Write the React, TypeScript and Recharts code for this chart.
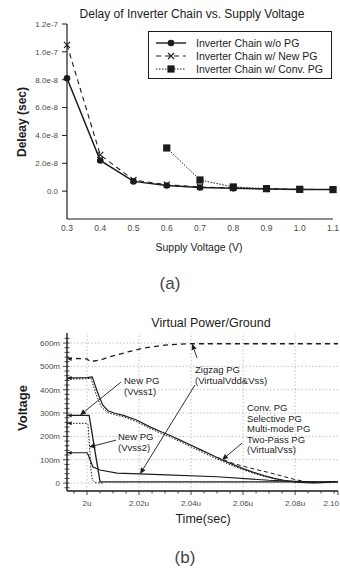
import React from 'react';
import { LineChart, Line, XAxis, YAxis, ReferenceLine, ReferenceDot, Legend } from 'recharts';

const FONT = '"Liberation Sans", Arial, sans-serif';
const INK = '#1c1c1c';
const TICK_INK = '#4a4a4a';

// (a) delay of inverter chain vs. supply voltage
const SUPPLY_V = [0.3, 0.4, 0.5, 0.6, 0.7, 0.8, 0.9, 1.0, 1.1];
const DELAY_NO_PG = [8.1e-8, 2.2e-8, 7e-9, 4e-9, 2.6e-9, 2e-9, 1.5e-9, 1.2e-9, 1.1e-9];
const DELAY_NEW_PG = [1.05e-7, 2.6e-8, 8e-9, 4.6e-9, 3e-9, 2.2e-9, 1.7e-9, 1.3e-9, 1.1e-9];
const DELAY_CONV_PG = [null, null, null, 3.1e-8, 8e-9, 3e-9, 1.8e-9, 1.3e-9, 1.1e-9];
const DELAY_TICKS = [0, 2e-8, 4e-8, 6e-8, 8e-8, 1e-7, 1.2e-7];
const DELAY_TICK_LABELS = ['0.0', '2.0e-8', '4.0e-8', '6.0e-8', '8.0e-8', '1.0e-7', '1.2e-7'];
const SUPPLY_TICK_LABELS = ['0.3', '0.4', '0.5', '0.6', '0.7', '0.8', '0.9', '1.0', '1.1'];
const LEGEND_NAMES = [
  'Inverter Chain w/o PG',
  'Inverter Chain w/ New PG',
  'Inverter Chain w/ Conv. PG',
];

// (b) virtual power / ground waveforms (time in us, voltage in V)
const ZIGZAG_T = [1.9923, 2.0, 2.0012, 2.005, 2.0088, 2.015, 2.0204, 2.025, 2.031, 2.035, 2.04, 2.05, 2.0965];
const ZIGZAG_V = [0.535, 0.532, 0.52, 0.527, 0.541, 0.56, 0.575, 0.584, 0.592, 0.595, 0.597, 0.597, 0.597];

const CONV_T = [1.9923, 2.0, 2.002, 2.004, 2.006, 2.008, 2.011, 2.014, 2.019, 2.024, 2.028, 2.032, 2.036, 2.04, 2.044, 2.048, 2.052, 2.056, 2.06, 2.064, 2.068, 2.072, 2.076, 2.08, 2.084, 2.088, 2.092, 2.0965];
const CONV_V = [0.45, 0.452, 0.455, 0.39, 0.335, 0.31, 0.298, 0.29, 0.27, 0.242, 0.222, 0.204, 0.183, 0.162, 0.141, 0.12, 0.099, 0.08, 0.062, 0.046, 0.032, 0.02, 0.011, 0.005, 0.002, 0.001, 0.003, 0.006];

const SELECTIVE_T = [1.9923, 2.0, 2.0015, 2.0035, 2.0055, 2.008, 2.011, 2.014, 2.019, 2.024, 2.028, 2.032, 2.036, 2.04, 2.044, 2.048, 2.052, 2.056, 2.06, 2.064, 2.068, 2.072, 2.076, 2.08, 2.084, 2.088];
const SELECTIVE_V = [0.445, 0.447, 0.45, 0.38, 0.325, 0.302, 0.292, 0.284, 0.263, 0.235, 0.215, 0.197, 0.176, 0.155, 0.134, 0.113, 0.093, 0.074, 0.057, 0.042, 0.029, 0.018, 0.01, 0.004, 0.002, 0.001];

const MULTI_T = [2.05, 2.056, 2.06, 2.065, 2.07, 2.075, 2.08, 2.085, 2.09];
const MULTI_V = [0.11, 0.085, 0.072, 0.058, 0.045, 0.03, 0.015, 0.004, 0.002];

const VVSS1_T = [1.9923, 2.0, 2.0008, 2.002, 2.003, 2.004, 2.005, 2.0965];
const VVSS1_V = [0.29, 0.29, 0.29, 0.21, 0.14, 0.075, 0.005, 0.005];

const VVSS1_DOT_T = [1.9923, 2.0, 2.0004, 2.001, 2.0015, 2.002, 2.003, 2.006];
const VVSS1_DOT_V = [0.256, 0.256, 0.25, 0.15, 0.06, 0.015, 0.002, 0.0];

const VVSS2_T = [1.9923, 2.0, 2.0005, 2.0012, 2.0023, 2.005, 2.0115, 2.02, 2.028, 2.05, 2.07, 2.08, 2.09, 2.0965];
const VVSS2_V = [0.13, 0.13, 0.12, 0.099, 0.069, 0.056, 0.043, 0.039, 0.036, 0.027, 0.012, 0.007, 0.004, 0.006];

// initial levels flagged with a small marker at the left edge
const START_LEVELS = [0.532, 0.45, 0.29, 0.256, 0.13];

const VOLT_MAJOR = [0, 0.1, 0.2, 0.3, 0.4, 0.5, 0.6];
const VOLT_LABELS = ['0', '100m', '200m', '300m', '400m', '500m', '600m'];
const TIME_MAJOR = [2.0, 2.02, 2.04, 2.06, 2.08, 2.0965];
const TIME_LABELS = ['2u', '2.02u', '2.04u', '2.06u', '2.08u', '2.10'];

// minor tick positions along the axes
const VOLT_TICKS = Array.from({ length: 33 }, (_, i) => Math.round((i - 1) * 20) / 1000);
const TIME_TICKS = [...Array.from({ length: 21 }, (_, i) => Math.round(19950 + i * 50) / 10000), 2.0965];

const toSeries = (t: number[], v: number[]) => t.map((x, i) => ({ t: x, v: v[i] }));

const delayData = SUPPLY_V.map((v, i) => ({
  v,
  noPg: DELAY_NO_PG[i],
  newPg: DELAY_NEW_PG[i],
  convPg: DELAY_CONV_PG[i],
}));

const CircleDot = (p: any) =>
  p.cy == null ? <g key={p.index} /> : <circle key={p.index} cx={p.cx} cy={p.cy} r={3.3} fill={INK} />;

const CrossDot = (p: any) =>
  p.cy == null ? (
    <g key={p.index} />
  ) : (
    <path
      key={p.index}
      d={`M${p.cx - 3},${p.cy - 3}L${p.cx + 3},${p.cy + 3}M${p.cx - 3},${p.cy + 3}L${p.cx + 3},${p.cy - 3}`}
      stroke={INK}
      strokeWidth={1.1}
    />
  );

const SquareDot = (p: any) =>
  p.cy == null ? (
    <g key={p.index} />
  ) : (
    <rect key={p.index} x={p.cx - 3.6} y={p.cy - 3.6} width={7.2} height={7.2} fill={INK} />
  );

const LeftMarker = (p: any) => (
  <polygon points={`${p.cx - 2.5},${p.cy} ${p.cx + 1.5},${p.cy - 2} ${p.cx + 1.5},${p.cy + 2}`} fill={INK} />
);

const DelayTick = ({ x, y, payload }: any) => {
  const idx = DELAY_TICKS.findIndex((t) => Math.abs(t - payload.value) < 1e-12);
  return (
    <g>
      <line x1={x - 5} x2={x} y1={y} y2={y} stroke={INK} strokeWidth={1} />
      <text x={x - 9} y={y} dy="0.35em" textAnchor="end" fontSize={8} fill={TICK_INK} fontFamily={FONT}>
        {DELAY_TICK_LABELS[idx]}
      </text>
    </g>
  );
};

const SupplyTick = ({ x, y, payload }: any) => {
  const idx = SUPPLY_V.findIndex((t) => Math.abs(t - payload.value) < 1e-6);
  return (
    <text x={x} y={y + 12} textAnchor="middle" fontSize={8.5} fill={TICK_INK} fontFamily={FONT}>
      {SUPPLY_TICK_LABELS[idx]}
    </text>
  );
};

const VoltTick = ({ x, y, payload }: any) => {
  const idx = VOLT_MAJOR.findIndex((t) => Math.abs(t - payload.value) < 1e-6);
  const major = idx >= 0;
  return (
    <g>
      <line x1={x - (major ? 4 : 2.5)} x2={x + 2.5} y1={y} y2={y} stroke={INK} strokeWidth={0.8} />
      {major && (
        <text x={x - 7} y={y} dy="0.35em" textAnchor="end" fontSize={8} fill={TICK_INK} fontFamily={FONT}>
          {VOLT_LABELS[idx]}
        </text>
      )}
    </g>
  );
};

const TimeTick = ({ x, y, payload }: any) => {
  const idx = TIME_MAJOR.findIndex((t) => Math.abs(t - payload.value) < 1e-6);
  const major = idx >= 0;
  const last = idx === TIME_MAJOR.length - 1;
  return (
    <g>
      <line x1={x} x2={x} y1={y} y2={y + (major ? 4 : 2.5)} stroke={INK} strokeWidth={0.8} />
      {major && (
        <text
          x={last ? x + 1 : x}
          y={y + 15}
          textAnchor={last ? 'end' : 'middle'}
          fontSize={8}
          fill={TICK_INK}
          fontFamily={FONT}
        >
          {TIME_LABELS[idx]}
        </text>
      )}
    </g>
  );
};

// line with a small filled arrow head at the second point
const Arrow = (p: any) => {
  const { x1, y1, x2, y2 } = p;
  const a = Math.atan2(y2 - y1, x2 - x1);
  const len = 6;
  const w = 2.6;
  const bx = x2 - len * Math.cos(a);
  const by = y2 - len * Math.sin(a);
  const pts = `${x2},${y2} ${bx + w * Math.sin(a)},${by - w * Math.cos(a)} ${bx - w * Math.sin(a)},${by + w * Math.cos(a)}`;
  return (
    <g>
      <line x1={x1} y1={y1} x2={bx} y2={by} stroke={INK} strokeWidth={0.9} />
      <polygon points={pts} fill={INK} />
    </g>
  );
};

const ARROWS = [
  { from: { x: 2.0423, y: 0.536 }, to: { x: 2.0404, y: 0.597 } },
  { from: { x: 2.0415, y: 0.42 }, to: { x: 2.0204, y: 0.039 } },
  { from: { x: 2.0131, y: 0.433 }, to: { x: 1.9973, y: 0.291 } },
  { from: { x: 2.0112, y: 0.184 }, to: { x: 2.0008, y: 0.154 } },
  { from: { x: 2.0596, y: 0.171 }, to: { x: 2.0519, y: 0.099 } },
];

const LegendBox = () => {
  const swatches = [
    <g>
      <line x1={2} x2={32} y1={6} y2={6} stroke={INK} strokeWidth={1.4} />
      <circle cx={17} cy={6} r={3.3} fill={INK} />
    </g>,
    <g>
      <line x1={2} x2={32} y1={6} y2={6} stroke={INK} strokeWidth={1.1} strokeDasharray="5 4" />
      <path d="M14,3L20,9M14,9L20,3" stroke={INK} strokeWidth={1.1} />
    </g>,
    <g>
      <line x1={2} x2={32} y1={6} y2={6} stroke={INK} strokeWidth={1} strokeDasharray="1.5 1.5" />
      <rect x={13.4} y={2.4} width={7.2} height={7.2} fill={INK} />
    </g>,
  ];
  return (
    <div
      style={{
        width: 184,
        height: 48,
        border: `1.3px solid ${INK}`,
        background: '#fff',
        boxSizing: 'border-box',
        paddingTop: 4,
        paddingLeft: 5,
      }}
    >
      {LEGEND_NAMES.map((name, i) => (
        <div key={name} style={{ display: 'flex', alignItems: 'center', height: 13 }}>
          <svg width={36} height={12}>{swatches[i]}</svg>
          <span style={{ fontFamily: FONT, fontSize: 10.5, color: INK, marginLeft: 6, whiteSpace: 'nowrap' }}>
            {name}
          </span>
        </div>
      ))}
    </div>
  );
};

const abs = (left: number, top: number, extra: React.CSSProperties = {}): React.CSSProperties => ({
  position: 'absolute',
  left,
  top,
  fontFamily: FONT,
  color: INK,
  whiteSpace: 'nowrap',
  lineHeight: 1,
  ...extra,
});

const noteStyle = (left: number, top: number): React.CSSProperties =>
  abs(left, top, { fontSize: 9.5, lineHeight: '10.5px' });

export default function App() {
  return (
    <div style={{ position: 'absolute', left: 0, top: 0, width: 340, height: 568, background: '#fff' }}>
      {/* (a) */}
      <div style={{ position: 'absolute', left: 0, top: 0, width: 340, height: 300 }}>
        <LineChart width={340} height={300} data={delayData} margin={{ top: 24, right: 7, left: 0, bottom: 51 }}>
          <XAxis
            dataKey="v"
            type="number"
            domain={[0.3, 1.1]}
            ticks={SUPPLY_V}
            interval={0}
            tickLine={false}
            tickSize={0}
            tickMargin={0}
            tick={<SupplyTick />}
            axisLine={{ stroke: INK, strokeWidth: 1.2 }}
            height={30}
          />
          <XAxis xAxisId="top" orientation="top" dataKey="v" type="number" domain={[0.3, 1.1]} height={0} tick={false} tickLine={false} axisLine={{ stroke: INK, strokeWidth: 1.2 }} />
          <YAxis
            type="number"
            domain={[-2e-8, 1.2e-7]}
            ticks={DELAY_TICKS}
            interval={0}
            tickLine={false}
            tickSize={0}
            tickMargin={0}
            tick={<DelayTick />}
            axisLine={{ stroke: INK, strokeWidth: 1.2 }}
            width={67}
          />
          <YAxis yAxisId="right" orientation="right" type="number" domain={[-2e-8, 1.2e-7]} width={0} tick={false} tickLine={false} axisLine={{ stroke: INK, strokeWidth: 1.2 }} />
          <Legend
            layout="horizontal"
            verticalAlign="middle"
            align="center"
            wrapperStyle={{ position: 'absolute', top: 31, left: 148, width: 184, height: 48 }}
            content={() => <LegendBox />}
          />
          <Line dataKey="convPg" stroke={INK} strokeWidth={1} strokeDasharray="1.5 1.5" dot={SquareDot} isAnimationActive={false} />
          <Line dataKey="newPg" stroke={INK} strokeWidth={1.1} strokeDasharray="5 4" dot={CrossDot} isAnimationActive={false} />
          <Line dataKey="noPg" stroke={INK} strokeWidth={1.5} dot={CircleDot} isAnimationActive={false} />
        </LineChart>
        <div style={abs(0, 8, { width: 340, paddingLeft: 44, boxSizing: 'border-box', textAlign: 'center', fontSize: 12 })}>
          Delay of Inverter Chain vs. Supply Voltage
        </div>
        <div style={abs(22, 122, { fontSize: 12, fontWeight: 600, transform: 'translate(-50%, -50%) rotate(-90deg)' })}>
          Deleay (sec)
        </div>
        <div style={abs(199, 247, { fontSize: 10.5, transform: 'translate(-50%, -50%)' })}>Supply Voltage (V)</div>
        <div style={abs(170, 283, { fontSize: 17, color: '#444', transform: 'translate(-50%, -50%)' })}>(a)</div>
      </div>

      {/* (b) */}
      <div style={{ position: 'absolute', left: 0, top: 300, width: 340, height: 268 }}>
        <LineChart width={340} height={268} margin={{ top: 33, right: 2, left: 0, bottom: 52 }}>
          <XAxis
            dataKey="t"
            type="number"
            domain={[1.9923, 2.0965]}
            ticks={TIME_TICKS}
            interval={0}
            tickLine={false}
            tickSize={0}
            tickMargin={0}
            tick={<TimeTick />}
            axisLine={{ stroke: INK, strokeWidth: 1.4 }}
            height={25}
            allowDataOverflow
          />
          <XAxis xAxisId="top" orientation="top" dataKey="t" type="number" domain={[1.9923, 2.0965]} height={0} tick={false} tickLine={false} axisLine={{ stroke: '#333', strokeWidth: 1 }} allowDataOverflow />
          <YAxis
            type="number"
            domain={[-0.034, 0.643]}
            ticks={VOLT_TICKS}
            interval={0}
            tickLine={false}
            tickSize={0}
            tickMargin={0}
            tick={<VoltTick />}
            axisLine={{ stroke: INK, strokeWidth: 1.4 }}
            width={67}
            allowDataOverflow
          />
          <YAxis yAxisId="right" orientation="right" type="number" domain={[-0.034, 0.643]} width={0} tick={false} tickLine={false} axisLine={{ stroke: '#333', strokeWidth: 1 }} allowDataOverflow />
          {VOLT_MAJOR.map((v) => (
            <ReferenceLine key={`gy${v}`} y={v} stroke="#b4b4b4" strokeWidth={0.8} strokeDasharray="1.5 2" />
          ))}
          {TIME_MAJOR.slice(0, 5).map((t) => (
            <ReferenceLine key={`gx${t}`} x={t} stroke="#b4b4b4" strokeWidth={0.8} strokeDasharray="1.5 2" />
          ))}
          <Line data={toSeries(ZIGZAG_T, ZIGZAG_V)} dataKey="v" stroke={INK} strokeWidth={1.3} strokeDasharray="5 4" dot={false} isAnimationActive={false} />
          <Line data={toSeries(MULTI_T, MULTI_V)} dataKey="v" stroke={INK} strokeWidth={1} strokeDasharray="4 3" dot={false} isAnimationActive={false} />
          <Line data={toSeries(SELECTIVE_T, SELECTIVE_V)} dataKey="v" stroke={INK} strokeWidth={1} strokeDasharray="1.5 1.5" dot={false} isAnimationActive={false} />
          <Line data={toSeries(CONV_T, CONV_V)} dataKey="v" stroke={INK} strokeWidth={1.2} dot={false} isAnimationActive={false} />
          <Line data={toSeries(VVSS1_DOT_T, VVSS1_DOT_V)} dataKey="v" stroke={INK} strokeWidth={1} strokeDasharray="1.5 1.5" dot={false} isAnimationActive={false} />
          <Line data={toSeries(VVSS1_T, VVSS1_V)} dataKey="v" stroke={INK} strokeWidth={1.3} dot={false} isAnimationActive={false} />
          <Line data={toSeries(VVSS2_T, VVSS2_V)} dataKey="v" stroke={INK} strokeWidth={1.2} dot={false} isAnimationActive={false} />
          {START_LEVELS.map((lv) => (
            <ReferenceDot key={`sl${lv}`} x={1.9935} y={lv} shape={LeftMarker} ifOverflow="visible" />
          ))}
          {ARROWS.map((a, i) => (
            <ReferenceLine key={`ar${i}`} segment={[a.from, a.to]} shape={Arrow} ifOverflow="visible" />
          ))}
        </LineChart>
        <div style={abs(211, 23, { fontSize: 12.5, transform: 'translate(-50%, -50%)' })}>Virtual Power/Ground</div>
        <div style={abs(22, 108, { fontSize: 13, fontWeight: 600, transform: 'translate(-50%, -50%) rotate(-90deg)' })}>
          Voltage
        </div>
        <div style={abs(203, 219, { fontSize: 12.5, transform: 'translate(-50%, -50%)' })}>Time(sec)</div>
        <div style={abs(185, 257, { fontSize: 17, color: '#444', transform: 'translate(-50%, -50%)' })}>(b)</div>
        <div style={noteStyle(124, 76)}>
          New PG
          <br />
          (Vvss1)
        </div>
        <div style={noteStyle(118, 132)}>
          New PG
          <br />
          (Vvss2)
        </div>
        <div style={noteStyle(195, 65)}>
          Zigzag PG
          <br />
          (VirtualVdd&amp;Vss)
        </div>
        <div style={noteStyle(247, 103)}>
          Conv. PG
          <br />
          Selective PG
          <br />
          Multi-mode PG
          <br />
          Two-Pass PG
          <br />
          (VirtualVss)
        </div>
      </div>
    </div>
  );
}
